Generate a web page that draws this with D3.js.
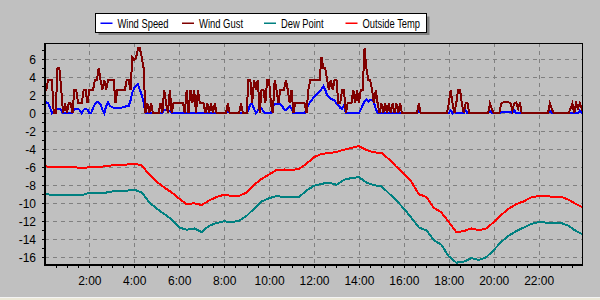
<!DOCTYPE html>
<html>
<head>
<meta charset="utf-8">
<script src="https://cdnjs.cloudflare.com/ajax/libs/d3/7.8.5/d3.min.js"></script>
<style>
  body { margin: 0; background: #c0c0c0; }
  svg text { font-family: 'Liberation Sans', Arial, sans-serif; }
</style>
</head>
<body>
<div id="chart-area"></div>
<script>
// Series (legend order) and colours
const seriesNames = ['Wind Speed', 'Wind Gust', 'Dew Point', 'Outside Temp'];
const seriesColors = ['#0000ff', '#800000', '#008080', '#ff0000'];

// Tick labels
const xTickHours = [2, 4, 6, 8, 10, 12, 14, 16, 18, 20, 22];
const xTickLabels = ['2:00', '4:00', '6:00', '8:00', '10:00', '12:00', '14:00', '16:00', '18:00', '20:00', '22:00'];
const yTickValues = [-16, -14, -12, -10, -8, -6, -4, -2, 0, 2, 4, 6];

// Wind readings, one every 5 minutes (one row per hour, last value = 24:00)
const windSpeed = [
  1.2, 1.2, 1.1, 0.6, 0, 0.2, 0.3, 0.5, 0.5, 0.3, 0, 0,
  0, 0, 0, 0, 0.4, 0.5, 0.5, 0.3, 0, 0.4, 0.5, 0.4,
  0, 0, 0.6, 1.0, 1.2, 1.2, 1.0, 0.4, 0, 0.8, 1.2, 0.8,
  0.7, 0.6, 0.6, 0.6, 0.6, 0.6, 0.7, 0.7, 0.8, 0.8, 1.4, 2.3,
  2.8, 3.0, 3.2, 2.6, 2.0, 1.2, 0, 0, 0, 0, 0, 0,
  0, 0, 0, 0, 0.4, 0.4, 0.3, 0.3, 0, 0, 0, 0,
  0, 0, 0, 0, 0, 0, 0, 0, 0, 0, 0, 0,
  0, 0, 0, 0, 0, 0, 0, 0, 0, 0, 0, 0,
  0, 0, 0.2, 0, 0, 0, 0, 0, 0, 0, 0, 0,
  0, 0.4, 1.0, 1.0, 0.5, 0, 0.3, 0.7, 0.5, 0.2, 0, 0,
  0, 0, 0.8, 1.0, 1.0, 1.0, 1.0, 0.8, 0.4, 0.3, 0.6, 0.8,
  0.5, 0, 0, 0, 0, 0, 0, 0, 0.4, 0.9, 1.3, 1.5,
  1.8, 2.0, 2.2, 2.4, 2.7, 3.0, 2.6, 2.0, 1.8, 1.6, 1.5, 1.4,
  1.1, 0.9, 0.6, 0.5, 0.9, 0, 0, 0, 0, 0, 0, 0,
  0, 0.4, 0.9, 1.3, 1.5, 1.3, 1.5, 1.5, 1.2, 0.5, 0, 0,
  0, 0, 0, 0, 0, 0, 0, 0, 0, 0, 0, 0,
  0, 0, 0, 0, 0, 0, 0, 0, 0.3, 0, 0, 0,
  0, 0, 0, 0, 0, 0, 0, 0, 0, 0, 0, 0,
  0, 0.3, 0, 0.3, 0, 0, 0, 0, 0, 0.3, 0, 0,
  0, 0, 0, 0, 0, 0, 0, 0, 0, 0, 0.3, 0,
  0, 0, 0, 0, 0.15, 0.15, 0.15, 0.15, 0.15, 0.15, 0, 0.3,
  0, 0, 0, 0, 0, 0, 0, 0, 0, 0, 0, 0,
  0, 0, 0, 0, 0, 0, 0.3, 0, 0, 0, 0, 0,
  0, 0, 0, 0, 0, 0, 0, 0, 0, 0, 0.3, 0,
  0
];
const windGust = [
  2.6, 2.6, 3.7, 3.7, 3.7, 0, 0, 5.0, 5.0, 2.6, 0, 1.1,
  0, 1.1, 1.1, 0, 2.6, 2.6, 1.1, 1.1, 1.1, 2.6, 2.6, 1.1,
  2.6, 2.6, 2.6, 3.7, 3.7, 5.0, 3.7, 2.6, 3.7, 2.6, 3.7, 3.7,
  3.7, 3.7, 1.1, 2.6, 2.6, 2.6, 2.6, 2.6, 3.7, 3.7, 2.6, 6.2,
  5.9, 6.2, 7.2, 7.2, 6.2, 5.0, 0, 1.1, 0, 1.1, 0, 0,
  0, 0, 1.1, 0, 2.6, 1.1, 0, 2.6, 0, 1.1, 1.1, 1.1,
  1.1, 1.1, 1.1, 0, 2.6, 0, 2.6, 1.1, 2.6, 0, 2.6, 1.1,
  1.1, 1.1, 0, 1.1, 0, 1.1, 0, 1.1, 0, 0, 0, 0,
  0, 0, 1.1, 0, 0, 0, 0, 0, 0, 1.1, 0, 0,
  0, 3.7, 3.7, 1.1, 3.7, 2.6, 3.7, 0, 2.6, 2.6, 1.1, 3.7,
  3.7, 1.1, 0, 3.7, 2.6, 1.1, 2.6, 2.6, 2.6, 3.7, 2.6, 1.1,
  2.6, 0, 1.1, 1.1, 1.1, 1.1, 1.1, 1.1, 0, 2.6, 3.7, 3.7,
  3.7, 3.7, 3.7, 3.7, 6.2, 5.0, 5.0, 3.7, 2.6, 3.7, 2.6, 3.7,
  3.7, 1.1, 1.1, 2.6, 2.6, 0, 1.1, 1.1, 1.1, 2.6, 1.1, 2.6,
  1.1, 2.6, 2.6, 7.2, 5.0, 3.7, 3.7, 2.6, 1.1, 2.6, 1.1, 0,
  1.1, 0, 1.1, 0, 1.1, 0, 1.1, 0, 1.1, 0, 1.1, 0,
  0, 0, 0, 0, 0, 0, 0, 0, 1.1, 0, 0, 0,
  0, 0, 0, 0, 0, 0, 0, 0, 0, 0, 0, 0,
  1.1, 2.6, 1.1, 0, 1.1, 2.6, 2.6, 1.1, 0, 1.1, 1.1, 0,
  0, 0, 0, 0, 0, 0, 0, 0, 0, 0, 1.1, 0.5,
  0, 0, 0, 0, 1.1, 1.2, 1.2, 1.2, 1.2, 1.1, 0.3, 1.1,
  1.2, 0.5, 1.2, 0, 0, 0, 0, 0, 0, 0, 0, 0,
  0, 0, 0, 0, 0, 0, 1.1, 0.5, 0, 0, 0, 0,
  0, 0, 0, 0, 0, 0.5, 1.1, 0, 1.1, 0.5, 1.1, 0.5,
  0
];

// Temperatures, one every 20 minutes (one row per hour, last value = 24:00)
const dewPoint = [
  -9.0, -9.05, -9.1,
  -9.1, -9.05, -9.1,
  -8.85, -8.9, -8.85,
  -8.7, -8.6, -8.6,
  -8.5, -8.8, -9.9,
  -10.6, -11.2, -11.8,
  -12.7, -12.95, -12.8,
  -13.2, -12.5, -12.2,
  -12.0, -12.1, -11.95,
  -11.4, -10.6, -9.8,
  -9.45, -9.2, -9.3,
  -9.35, -9.3, -8.6,
  -8.05, -7.85, -7.7,
  -7.95, -7.4, -7.2,
  -7.1, -7.7, -8.0,
  -8.1, -8.9, -9.7,
  -10.6, -11.6, -12.7,
  -13.0, -14.1, -14.6,
  -15.9, -16.6, -16.5,
  -16.1, -16.3, -16.0,
  -15.2, -14.3, -13.6,
  -13.1, -12.7, -12.3,
  -12.1, -12.15, -12.2,
  -12.2, -12.5, -13.1,
  -13.5
];
const outsideTemp = [
  -5.9, -5.95, -6.0,
  -6.0, -6.0, -6.1,
  -6.0, -6.0, -5.9,
  -5.8, -5.75, -5.7,
  -5.6, -5.8, -6.8,
  -7.6, -8.25, -8.8,
  -9.5, -10.1, -10.0,
  -10.2, -9.7, -9.3,
  -9.05, -9.2, -9.2,
  -8.8, -7.95, -7.3,
  -6.8, -6.3, -6.25,
  -6.3, -6.2, -5.6,
  -4.9, -4.5, -4.45,
  -4.3, -4.05, -3.85,
  -3.65, -4.1, -4.35,
  -4.4, -5.1, -5.95,
  -6.7, -7.6, -9.0,
  -9.3, -10.5, -11.0,
  -12.1, -13.2, -13.1,
  -12.8, -13.0, -12.8,
  -12.1, -11.3, -10.6,
  -10.1, -9.8, -9.35,
  -9.2, -9.2, -9.3,
  -9.3, -9.6, -10.1,
  -10.5
];

// SVG drawing area
let margin = { top: 43, right: 18, bottom: 36, left: 45 };
let width = 600 - margin.left - margin.right,
  height = 300 - margin.top - margin.bottom;

let root = d3
  .select('#chart-area')
  .append('svg')
  .attr('width', 600)
  .attr('height', 300);

root.append('rect').attr('width', 600).attr('height', 300).attr('fill', '#c0c0c0');
// window edge at the bottom
root.append('rect').attr('y', 297).attr('width', 600).attr('height', 3).attr('fill', '#ece9d8');
root.append('line').attr('x1', 0).attr('x2', 600).attr('y1', 297.5).attr('y2', 297.5)
  .attr('stroke', '#f4f4f4');

let svg = root
  .append('g')
  .attr('transform', 'translate(' + margin.left + ',' + margin.top + ')');

// Scales
let x = d3.scaleLinear().domain([0, 23.93]).range([-0.6, width]);
let y = d3.scaleLinear().domain([-16.75, 7.8]).range([height, 0]);

// Grid
let grid = svg.append('g').attr('shape-rendering', 'crispEdges');
grid.selectAll('.hgrid')
  .data(yTickValues)
  .enter()
  .append('line')
  .attr('x1', 0)
  .attr('x2', width)
  .attr('y1', d => Math.round(y(d)) + 0.5)
  .attr('y2', d => Math.round(y(d)) + 0.5)
  .attr('stroke', '#808080')
  .attr('stroke-dasharray', '4,4');
grid.selectAll('.vgrid')
  .data(xTickHours)
  .enter()
  .append('line')
  .attr('x1', d => Math.round(x(d)) + 0.5)
  .attr('x2', d => Math.round(x(d)) + 0.5)
  .attr('y1', 0)
  .attr('y2', height)
  .attr('stroke', '#808080')
  .attr('stroke-dasharray', '4,4');

// Clip lines to the plot area
svg.append('clipPath').attr('id', 'plot-clip')
  .append('rect').attr('width', width).attr('height', height + 1);

let windTimes = windSpeed.map((d, i) => i / 12);
let tempTimes = dewPoint.map((d, i) => i / 3);

let series = [
  { values: windSpeed, times: windTimes },
  { values: windGust, times: windTimes },
  { values: dewPoint, times: tempTimes },
  { values: outsideTemp, times: tempTimes }
];

let line = d3
  .line()
  .x(d => x(d[0]))
  .y(d => y(d[1]))
  .curve(d3.curveLinear);

// aliased lines, like the old GDI chart
let lines = svg.append('g').attr('clip-path', 'url(#plot-clip)');
series.forEach(function(s, i) {
  lines
    .append('path')
    .datum(s.values.map((v, j) => [s.times[j], v]))
    .attr('fill', 'none')
    .attr('stroke', seriesColors[i])
    .attr('stroke-width', 2)
    .attr('stroke-linejoin', 'miter')
    .attr('shape-rendering', 'crispEdges')
    .attr('d', line);
});

// Axes
let yAxis = svg
  .append('g')
  .attr('class', 'axis y-axis')
  .call(
    d3.axisLeft(y)
      .tickValues(d3.range(-16, 8))
      .tickSize(3)
      .tickPadding(6)
      .tickFormat(d => (yTickValues.includes(d) ? d : ''))
  );
let xAxis = svg
  .append('g')
  .attr('class', 'axis x-axis')
  .attr('transform', `translate(0, ${height})`)
  .call(
    d3.axisBottom(x)
      .tickValues(d3.range(0.5, 24, 0.5))
      .tickSize(4)
      .tickPadding(8)
      .tickFormat(d => {
        let k = xTickHours.indexOf(d);
        return k >= 0 ? xTickLabels[k] : '';
      })
  );
[xAxis, yAxis].forEach(function(g) {
  g.select('.domain').remove();
  g.attr('font-family', null).attr('font-size', null);
  g.selectAll('line').attr('stroke', '#000').attr('shape-rendering', 'crispEdges');
  g.selectAll('text').attr('fill', '#000').style('font-size', '12px');
});

// Plot frame
let frame = svg.append('g').attr('shape-rendering', 'crispEdges').attr('stroke', '#000');
frame.append('line').attr('x1', 0).attr('x2', width).attr('y1', 0.5).attr('y2', 0.5);
frame.append('line').attr('x1', width + 0.5).attr('x2', width + 0.5).attr('y1', 0).attr('y2', height + 2);
frame.append('line').attr('x1', 0).attr('x2', 0).attr('y1', 0).attr('y2', height + 2)
  .attr('stroke-width', 2);
frame.append('line').attr('x1', -1).attr('x2', width + 1).attr('y1', height + 1).attr('y2', height + 1)
  .attr('stroke-width', 2);

// Legend
let legendX = [100.5, 182, 264, 345.5];
let legendW = [51, 44, 42.5, 57.5];
let legend = root.append('g');
legend.append('rect')
  .attr('x', 98.5).attr('y', 16.5).attr('width', 331).attr('height', 18.5)
  .attr('fill', '#808080');
legend.append('rect')
  .attr('x', 95.5).attr('y', 13.5).attr('width', 331).attr('height', 18.5)
  .attr('fill', '#fff').attr('stroke', '#000').attr('shape-rendering', 'crispEdges');
seriesNames.forEach(function(name, i) {
  legend.append('rect')
    .attr('x', legendX[i]).attr('y', 22.5)
    .attr('width', 12).attr('height', 1.5)
    .attr('fill', seriesColors[i]);
  legend.append('text')
    .attr('x', legendX[i] + 17)
    .attr('y', 27.5)
    .attr('textLength', legendW[i])
    .attr('lengthAdjust', 'spacingAndGlyphs')
    .style('font-size', '12px')
    .text(name);
});
</script>
</body>
</html>
